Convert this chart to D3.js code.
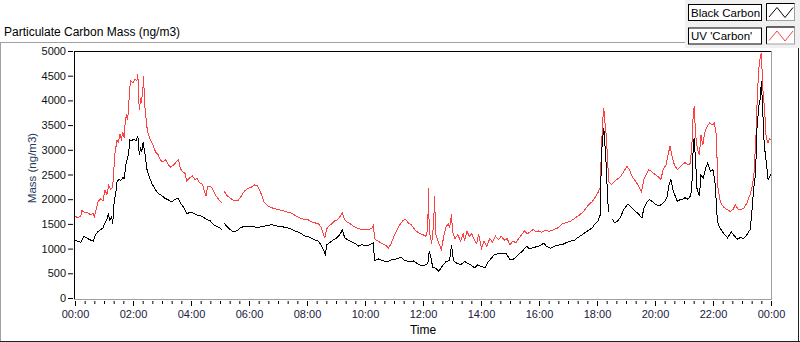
<!DOCTYPE html>
<html><head><meta charset="utf-8">
<script src="https://cdn.jsdelivr.net/npm/d3@7"></script>
<style>
html,body{margin:0;padding:0;background:#fff;overflow:hidden}
text{font-family:"Liberation Sans",Arial,sans-serif}
</style>
</head><body><svg id="chart" width="800" height="342"></svg>
<script>
const chartTitle = "Particulate Carbon Mass (ng/m3)";
const seriesNames = ["Black Carbon", "UV 'Carbon'"];
const seriesColors = ["#000000", "#ff4040"];
const yLabel = "Mass (ng/m3)";
const xLabel = "Time";
const yTicks = [0, 500, 1000, 1500, 2000, 2500, 3000, 3500, 4000, 4500, 5000];
const xTickTimes = ["00:00","02:00","04:00","06:00","08:00","10:00","12:00","14:00","16:00","18:00","20:00","22:00","24:00"];
const xTickLabels = ["00:00","02:00","04:00","06:00","08:00","10:00","12:00","14:00","16:00","18:00","20:00","22:00","00:00"];

const bcTime = ["00:00","00:06","00:12","00:18","00:22","00:27","00:33","00:38","00:42","00:48","00:53","00:58",
"01:02","01:06","01:09","01:12","01:16","01:18","01:21","01:24","01:27","01:31","01:35","01:39","01:42","01:45","01:49","01:51","01:53","01:57",
"02:02","02:06","02:10","02:13","02:16","02:18","02:21","02:25","02:29","02:33","02:40","02:46","02:52",
"03:00","03:06","03:12","03:20","03:28","03:34","03:38","03:45","03:52","03:58",
"04:05","04:12","04:20","04:28","04:33","04:40","04:47","04:54",
"05:00","05:04","05:06","05:08","05:15","05:22","05:28","05:35","05:42","05:50",
"06:00","06:10","06:20","06:30","06:40","06:47","06:55",
"07:05","07:15","07:25","07:35","07:45","07:55",
"08:05","08:15","08:24","08:30","08:35","08:38","08:41","08:48","08:55",
"09:02","09:09","09:13","09:18","09:25","09:32","09:40","09:46","09:54",
"10:02","10:10","10:17","10:20","10:28","10:38","10:48","10:56",
"11:05","11:15","11:22","11:30","11:40","11:48","11:57",
"12:05","12:10","12:13","12:16","12:20","12:27","12:33","12:40","12:48","12:55","12:59",
"13:03","13:10","13:19","13:26","13:33","13:40","13:47","13:53",
"14:00","14:08","14:14","14:20","14:28","14:36","14:44","14:52",
"15:00","15:06","15:13","15:20","15:27","15:34","15:40","15:48","15:56",
"16:03","16:10","16:16","16:24","16:32","16:40","16:48","16:56",
"17:04","17:12","17:20","17:28","17:36","17:44","17:50","17:56",
"18:02","18:07","18:09","18:12","18:14","18:16","18:19","18:22","18:24","18:28","18:32","18:37","18:43","18:49","18:55",
"19:00","19:03","19:09","19:15","19:20","19:26","19:33","19:37","19:42","19:48","19:55",
"20:01","20:08","20:14","20:20","20:25","20:29","20:33","20:38","20:46","20:52","20:58",
"21:02","21:08","21:13","21:16","21:19","21:21","21:24","21:27","21:32","21:35","21:40","21:45","21:49","21:55",
"22:00","22:04","22:07","22:09","22:14","22:22","22:30","22:38","22:44","22:50","22:56",
"23:04","23:10","23:17","23:20","23:24","23:28","23:31","23:35","23:38","23:40","23:43","23:46","23:50","23:54","23:57","24:00"];
const bcMass = [1160,1150,1130,1250,1230,1200,1170,1150,1280,1350,1380,1420,
1520,1600,1690,1580,1650,1490,1950,2100,2360,2400,2380,2440,2420,2700,2850,2900,3200,3180,
3220,3180,3280,2900,3050,2950,3150,2900,2600,2470,2300,2200,2120,
2070,2020,1990,1950,2000,2020,1920,1830,1700,1740,
1720,1680,1660,1620,1590,1560,1480,1450,
1420,1380,null,1520,1440,1380,1340,1360,1420,1450,
1440,1440,1430,1450,1470,1490,1460,
1450,1430,1410,1360,1320,1260,
1230,1180,1150,1060,950,880,1080,1130,1180,
1220,1300,1380,1220,1170,1140,1100,1050,1080,
1050,1080,1110,760,790,750,740,780,
790,830,760,740,750,700,650,
670,700,950,850,620,600,540,650,740,760,1080,
760,700,680,740,700,660,610,670,
640,610,720,790,880,900,910,900,
780,780,830,900,960,1050,1000,1020,1040,
1060,1110,1040,1010,1050,1070,1080,1120,
1150,1160,1220,1270,1330,1380,1420,1500,
1560,1690,2900,3250,3440,3170,2700,2000,1750,null,1590,1520,1560,1640,1790,
1850,1900,1860,1800,1750,1700,1620,1820,1920,1990,1950,
1900,1860,1900,1950,2050,2290,2400,2160,1960,1990,2000,
2030,2000,2060,2200,3040,3240,2770,2200,2060,2490,2430,2630,2730,2560,
2600,2360,1900,1550,1420,1310,1220,1340,1260,1190,1220,
1210,1280,1390,1690,2200,2500,3440,3900,4050,4390,3780,3100,2770,2400,2450,2500];

const uvTime = ["00:00","00:06","00:12","00:14","00:20","00:27","00:33","00:37","00:40","00:43","00:48","00:53","00:58",
"01:02","01:06","01:10","01:14","01:18","01:21","01:23","01:27","01:30","01:33","01:36","01:39","01:42","01:44","01:47","01:49","01:53","01:55",
"02:00","02:04","02:08","02:10","02:13","02:16","02:17","02:20","02:22","02:24","02:26","02:28","02:32","02:36","02:41","02:47","02:52","02:57",
"03:03","03:08","03:13","03:18","03:24","03:30","03:34","03:38","03:42","03:48","03:51","03:56",
"04:03","04:08","04:13","04:18","04:24","04:28","04:31","04:34","04:41","04:45","04:51","04:57",
"05:04","05:06","05:08","05:15","05:23","05:30","05:37","05:43","05:51",
"06:00","06:06","06:12","06:17","06:22","06:26","06:31","06:37","06:45","06:54",
"07:00","07:09","07:18","07:28","07:36","07:45","07:54",
"08:03","08:10","08:17","08:24","08:30","08:34","08:37","08:41","08:46","08:51","08:57",
"09:03","09:09","09:13","09:18","09:24","09:30","09:36","09:42","09:48","09:56",
"10:06","10:15","10:17","10:21","10:27","10:36","10:45","10:48","10:54",
"11:00","11:05","11:12","11:18","11:23","11:30","11:36","11:45","11:54",
"12:00","12:06","12:10","12:11","12:13","12:18","12:22","12:24","12:26","12:31","12:38","12:43","12:48","12:52","12:55","12:59",
"13:01","13:06","13:12","13:18","13:23","13:26","13:31","13:36","13:41","13:45","13:51","13:55",
"14:01","14:06","14:12","14:18","14:24","14:30","14:36","14:42","14:48","14:54",
"15:00","15:06","15:12","15:18","15:24","15:30","15:36","15:42","15:48","15:54",
"16:00","16:06","16:12","16:21","16:30","16:39","16:48","16:57",
"17:06","17:15","17:24","17:33","17:42","17:50","17:57",
"18:03","18:07","18:09","18:12","18:14","18:16","18:19","18:22","18:24","18:30","18:36","18:41","18:48","18:54",
"19:02","19:07","19:13","19:21","19:27","19:32","19:37","19:42","19:47","19:54",
"20:00","20:06","20:12","20:17","20:23","20:27","20:31","20:35","20:40","20:46","20:51","20:57",
"21:02","21:09","21:13","21:17","21:19","21:21","21:24","21:28","21:32","21:35","21:39","21:43","21:47","21:53","21:58",
"22:03","22:07","22:10","22:15","22:21","22:29","22:36","22:42","22:46","22:52","22:57",
"23:04","23:10","23:17","23:22","23:25","23:29","23:32","23:36","23:40","23:43","23:47","23:50","23:54","23:57","24:00"];
const uvMass = [1650,1630,1650,1770,1730,1720,1680,1720,1650,1760,1960,2010,1970,
2180,2100,2280,2200,2250,2700,2950,3200,3150,3320,3220,3350,3250,3580,3720,3600,4200,4400,
4350,4430,4400,4530,3800,4050,3950,4150,4500,3900,3750,3500,3300,3200,3100,2950,2900,2780,
2760,2800,2700,2650,2690,2760,2800,2620,2560,2520,2370,2420,
2470,2400,2420,2330,2300,2150,2060,2250,2260,2200,2080,2000,
1920,null,2170,2070,2010,1970,1970,2050,2170,
2230,2250,2290,2270,2180,2090,1950,1880,1830,1810,
1790,1770,1740,1720,1670,1620,1590,
1580,1540,1520,1500,1420,1280,1230,1400,1470,1500,1560,
1580,1660,1720,1580,1530,1500,1450,1420,1400,1380,
1380,1420,1460,1180,1150,1100,1050,1000,1100,
1250,1350,1480,1560,1600,1520,1480,1360,1300,
1280,1250,1400,2230,1350,1100,1500,2060,1300,1150,980,1250,1450,1500,1420,1690,
1350,1200,1280,1150,1300,1150,1350,1250,1300,1200,1100,1300,
1000,1150,1050,1200,1130,1250,1180,1250,1170,1200,
1080,1150,1120,1200,1280,1360,1300,1340,1390,1340,
1360,1330,1370,1350,1380,1420,1500,1530,
1560,1620,1680,1760,1880,1950,2050,
2150,2250,3000,3600,3850,3600,3300,2800,2360,2300,2350,2400,2450,2540,
2660,2600,2450,2350,2250,2150,2400,2500,2600,2550,
2500,2460,2400,2600,2700,2900,3070,2880,2700,2600,2640,2700,
2740,2700,2720,3200,3700,3880,3300,3000,2900,3300,3100,3350,3450,3550,3500,
3540,3300,2250,1950,1850,1790,1750,1800,1890,1800,1790,
1820,1920,2100,2300,2550,3300,4180,4790,4960,4250,3780,3240,3140,3230,3200];

const toMin = s => { const p = s.split(":").map(Number); return p[0] * 60 + p[1]; };
const mk = (ts, vs) => ts.map((t, i) => ({ t: toMin(t), v: vs[i] }));
const series = [mk(bcTime, bcMass), mk(uvTime, uvMass)];

const svg = d3.select("#chart");
const W = 800, H = 342;
const x = d3.scaleLinear().domain([0, 1440]).range([75, 771]);
const y = d3.scaleLinear().domain([0, 5000]).range([298, 51]);

svg.append("rect").attr("width", W).attr("height", H).attr("fill", "#fff");

// outer panel borders
svg.append("line").attr("x1", 0).attr("x2", 686).attr("y1", 42.5).attr("y2", 42.5).attr("stroke", "#a0a0a0");
svg.append("line").attr("x1", 0.5).attr("x2", 0.5).attr("y1", 42).attr("y2", 342).attr("stroke", "#a0a0a0");
svg.append("line").attr("x1", 0).attr("x2", 800).attr("y1", 341.5).attr("y2", 341.5).attr("stroke", "#202020");
svg.append("line").attr("x1", 798.5).attr("x2", 798.5).attr("y1", 48).attr("y2", 342).attr("stroke", "#202020");

// title
svg.append("text").attr("x", 4).attr("y", 35.5).attr("font-size", 12).attr("fill", "#000").text(chartTitle);

// legend panel
svg.append("rect").attr("x", 685).attr("y", 0).attr("width", 115).attr("height", 48).attr("fill", "#f0f0f0");
seriesNames.forEach((name, i) => {
  const oy = i * 23.5;
  svg.append("rect").attr("x", 688.5).attr("y", 4.5 + oy).attr("width", 73).attr("height", 16)
    .attr("fill", "#fff").attr("stroke", "#000");
  svg.append("text").attr("x", 691).attr("y", 16.8 + oy).attr("font-size", 11.5).attr("fill", "#000").text(name);
  svg.append("rect").attr("x", 766.5).attr("y", 3.5 + oy).attr("width", 28).attr("height", 17)
    .attr("fill", "#fff").attr("stroke", "#a0a0a0");
  svg.append("path").attr("d", `M766.5,${20.5 + oy}V${3.5 + oy}H794.5`).attr("fill", "none").attr("stroke", "#000");
  svg.append("polyline").attr("points", `769,${17 + oy} 777,${7.5 + oy} 785,${17.5 + oy} 793,${7.5 + oy}`)
    .attr("fill", "none").attr("stroke", seriesColors[i]).attr("stroke-width", 1);
});

// plot area
svg.append("clipPath").attr("id", "clip").append("rect").attr("x", 75).attr("y", 52).attr("width", 696).attr("height", 247);
const lineGen = d3.line().defined(d => d.v != null).x(d => x(d.t)).y(d => y(d.v));
const plot = svg.append("g").attr("clip-path", "url(#clip)");
[1, 0].forEach(i => {
  plot.append("path").datum(series[i]).attr("d", lineGen).attr("fill", "none")
    .attr("stroke", seriesColors[i]).attr("stroke-width", 1).attr("shape-rendering", "crispEdges");
});

// frame
svg.append("line").attr("x1", 74).attr("x2", 772).attr("y1", 51.5).attr("y2", 51.5).attr("stroke", "#000");
svg.append("line").attr("x1", 74.5).attr("x2", 74.5).attr("y1", 51).attr("y2", 300).attr("stroke", "#000");
svg.append("line").attr("x1", 74).attr("x2", 772).attr("y1", 299.5).attr("y2", 299.5).attr("stroke", "#a0a0a0");
svg.append("line").attr("x1", 771.5).attr("x2", 771.5).attr("y1", 51).attr("y2", 300).attr("stroke", "#a0a0a0");

// y axis
const yAxis = d3.axisLeft(y).tickValues(yTicks).tickSize(5).tickPadding(2).tickFormat(d3.format("d"));
const gy = svg.append("g").attr("transform", "translate(73,0)").call(yAxis);
gy.select(".domain").remove();
gy.selectAll("line").attr("stroke", "#000");
gy.selectAll("text").attr("font-size", 11).attr("fill", "#111").attr("font-family", "Liberation Sans, Arial, sans-serif");

// x axis minor
const minorTicks = d3.range(0, 1441, 20);
const gxm = svg.append("g").attr("transform", "translate(0,301)")
  .call(d3.axisBottom(x).tickValues(minorTicks).tickSize(3).tickFormat(""));
gxm.select(".domain").remove();
gxm.selectAll("line").attr("stroke", "#000");

// x axis major
const xAxis = d3.axisBottom(x).tickValues(xTickTimes.map(toMin)).tickSize(5).tickPadding(4)
  .tickFormat((d, i) => xTickLabels[i]);
const gx = svg.append("g").attr("transform", "translate(0,301)").call(xAxis);
gx.select(".domain").remove();
gx.selectAll("line").attr("stroke", "#000");
gx.selectAll("text").attr("font-size", 11).attr("fill", "#1a2040").attr("font-family", "Liberation Sans, Arial, sans-serif");

// axis titles
svg.append("text").attr("x", 423).attr("y", 334).attr("text-anchor", "middle").attr("font-size", 12).attr("fill", "#000").text(xLabel);
svg.append("text").attr("transform", "translate(36,168) rotate(-90)").attr("text-anchor", "middle")
  .attr("font-size", 11.5).attr("fill", "#1f3d5c").text(yLabel);
</script>
</body></html>
